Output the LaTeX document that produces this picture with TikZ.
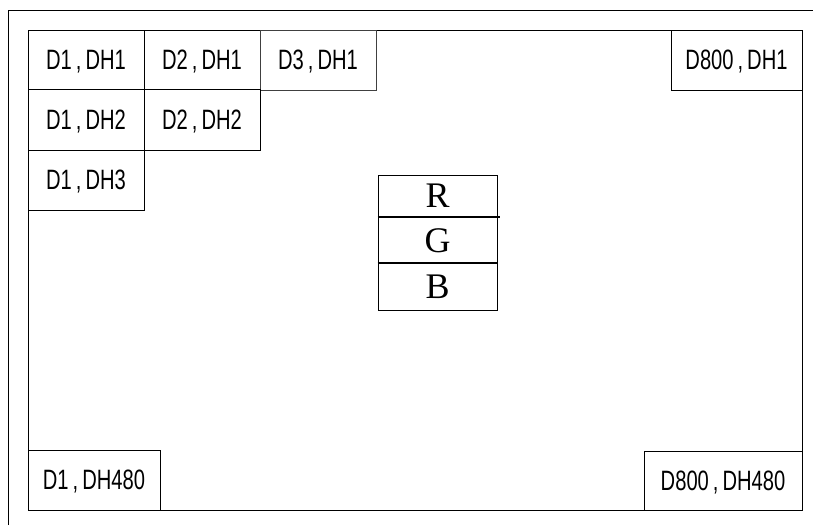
\documentclass[tikz,border=0pt]{standalone}
\usepackage{fontspec}
\usetikzlibrary{positioning}
\setmainfont{Liberation Serif}
\newfontfamily\narrowsf[FakeStretch=0.72]{Liberation Sans}
\newcommand{\pixname}[2]{#1\hspace{4pt},\hspace{4pt}#2}
\tikzset{
  cell/.style={draw,inner sep=0pt,text depth=0pt,font=\narrowsf\fontsize{28}{30}\selectfont},
  rgbcell/.style={draw,inner sep=0pt,minimum width=119pt,font=\fontsize{36}{40}\selectfont},
}
\begin{document}
\begin{tikzpicture}[x=1pt,y=-1pt,line width=0.8pt]
    \useasboundingbox (0,0) rectangle (813,525);
    % frames
    \draw (8,525) -- (8,10) -- (813,10);
    \draw (28,30) rectangle (802,510);
    % pixel cells
    \node [cell,minimum width=116pt,minimum height=59pt] (C1_1) at (86,59.5) {\pixname{D1}{DH1}};
    \node [cell,minimum width=116pt,minimum height=59pt] (C2_1) at (202,59.5) {\pixname{D2}{DH1}};
    \node [cell,minimum width=116pt,minimum height=60pt,draw=black!75] (C3_1) at (318,60) {\pixname{D3}{DH1}};
    \node [cell,minimum width=131pt,minimum height=60pt] (C800_1) at (736.5,60) {\pixname{D800}{DH1}};
    \node [cell,minimum width=116pt,minimum height=61pt] (C1_2) at (86,119.5) {\pixname{D1}{DH2}};
    \node [cell,minimum width=116pt,minimum height=61pt] (C2_2) at (202,119.5) {\pixname{D2}{DH2}};
    \node [cell,minimum width=116pt,minimum height=60pt] (C1_3) at (86,180) {\pixname{D1}{DH3}};
    \node [cell,minimum width=132pt,minimum height=60pt] (C1_480) at (94,480) {\pixname{D1}{DH480}};
    \node [cell,minimum width=158pt,minimum height=59pt] (C800_480) at (723,480.5) {\pixname{D800}{DH480}};
    % colour sub-pixels
    \node [rgbcell,minimum height=42pt] (R) at (437.5,196) {R};
    \node [rgbcell,minimum height=45pt,below=0pt of R] (G) {G};
    \node [rgbcell,minimum height=47pt,below=0pt of G] (B) {B};
    \draw [line width=2pt] (R.south west) -- ([xshift=3pt]R.south east);
    \draw [line width=2pt] (G.south west) -- (G.south east);
\end{tikzpicture}
\end{document}
